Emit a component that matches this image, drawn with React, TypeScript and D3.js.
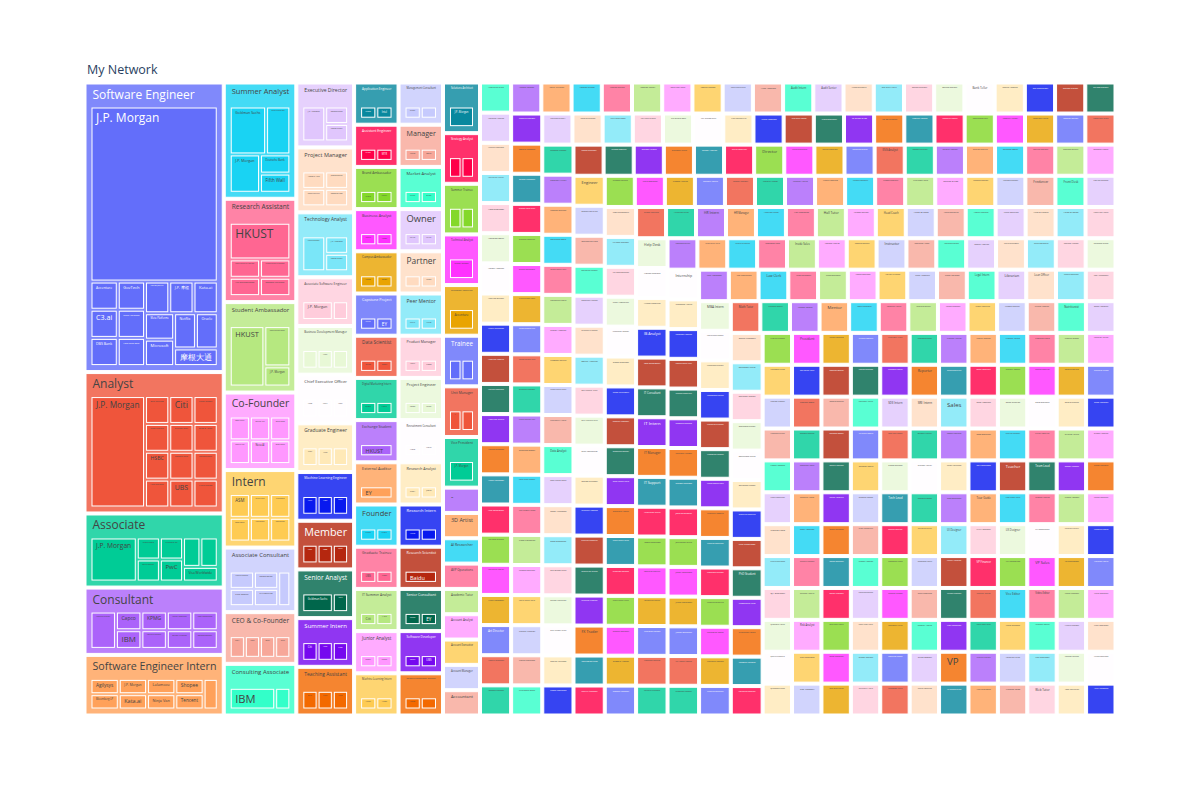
import { useMemo } from "react";
import * as d3 from "d3";

const W = 1200;
const H = 800;
const FONT = '"Open Sans", verdana, arial, sans-serif';

const chartTitle = "My Network";

// plotly colorway, extended by the treemap with lighter and darker variants
const colorway = ["#636efa", "#EF553B", "#00cc96", "#ab63fa", "#FFA15A", "#19d3f3", "#FF6692", "#B6E880", "#FF97FF", "#FECB52"];

// titles held by several people, split by company
const largeTitles: [string, [string, number][]][] = [
  ["Software Engineer", [["J.P. Morgan", 29], ["Accenture", 1], ["C3.ai", 1], ["DBS Bank", 1], ["GovTech", 1], ["Grab Holdings", 1], ["Hang Seng Bank", 1], ["Hong Kong Jockey Club", 1], ["J.P. 摩根", 1], ["Kata.ai", 1], ["Meta Platforms", 1], ["Microsoft", 1], ["Netflix", 1], ["Oracle", 1], ["摩根大通", 1]]],
  ["Analyst", [["J.P. Morgan", 9], ["BNP Paribas", 1], ["Citi", 1], ["Credit Suisse", 1], ["Deloitte Consulting", 1], ["Deutsche Bank", 1], ["Ernst & Young", 1], ["HSBC", 1], ["Hang Seng Bank", 1], ["Macquarie Group", 1], ["Morgan Stanley", 1], ["UBS", 1], ["Wells Fargo", 1]]],
  ["Associate", [["J.P. Morgan", 4], ["Apollo Global", 1], ["Bain & Company", 1], ["Citigroup Inc", 1], ["PwC", 1], ["Standard Chartered", 1], ["UBS Wealth Management", 1], ["Visa Worldwide", 1]]],
  ["Consultant", [["Accenture Strategy", 2], ["Capco", 1], ["IBM", 1], ["KPMG", 1], ["McKinsey & Company", 1], ["Mercer Consulting", 1], ["Oliver Wyman", 1], ["PwC Consulting", 1], ["Roland Berger", 1]]],
  ["Software Engineer Intern", [["Agilysys", 1], ["Bloomberg LP", 1], ["J.P. Morgan", 1], ["Kata.ai", 1], ["Lalamove", 1], ["Ninja Van", 1], ["Shopee", 1], ["Tencent", 1], ["Trip.com Group", 1]]],
  ["Summer Analyst", [["Goldman Sachs", 3], ["Barclays Investment Bank", 2], ["J.P. Morgan", 2], ["Deutsche Bank", 1], ["Fifth Wall", 1]]],
  ["Research Assistant", [["HKUST", 4], ["Chinese University of Hong Kong", 1], ["HKU Business School", 1], ["National University of Singapore", 1], ["Stanford University", 1]]],
  ["Student Ambassador", [["HKUST", 4], ["Google Developer Groups", 2], ["J.P. Morgan", 1]]],
  ["Co-Founder", [["Bloom Ventures", 1], ["CodeCraft Labs", 1], ["EduLink Asia", 1], ["Grid Labs", 1], ["Nova AI", 1], ["Stealth Startup", 1]]],
  ["Intern", [["ASM", 1], ["Bosch Group", 1], ["Cathay Pacific", 1], ["HKUST Robotics", 1], ["Huawei Technologies", 1], ["Samsung Electronics", 1]]],
  ["Associate Consultant", [["Accenture Technology", 1], ["Pure Search", 1], ["Roland Berger", 1], ["SAP Consulting", 1], ["ZS Associates", 1]]],
  ["CEO & Co-Founder", [["Brightly", 1], ["Lumen", 1], ["Orbit", 1], ["Tandem", 1]]],
  ["Consulting Associate", [["IBM", 3], ["Deloitte Consulting", 1]]],
  ["Executive Director", [["J.P. Morgan", 2], ["Goldman Sachs", 1], ["Morgan Stanley", 1]]],
  ["Project Manager", [["AECOM Asia", 1], ["Gammon Construction", 1], ["Jacobs Engineering", 1], ["Samsung C&T", 1]]],
  ["Technology Analyst", [["Citigroup Technology", 2], ["J.P. Morgan", 1], ["Morgan Stanley", 1]]],
  ["Associate Software Engineer", [["J.P. Morgan", 2], ["Accenture Technology", 1]]],
  ["Business Development Manager", [["Alibaba Cloud", 1], ["HKTDC", 1], ["Octopus Cards", 1]]],
  ["Chief Executive Officer", [["Atlas", 1], ["Kinetic", 1], ["Vertex", 1]]],
  ["Graduate Engineer", [["AECOM", 1], ["Arup", 1], ["MTR Corporation", 1]]],
  ["Machine Learning Engineer", [["Apple", 1], ["Huawei", 1], ["SenseTime", 1]]],
  ["Member", [["AIESEC", 1], ["IEEE", 1], ["Rotaract", 1]]],
  ["Senior Analyst", [["Goldman Sachs", 2], ["Accenture", 1]]],
  ["Summer Intern", [["Citi", 1], ["HSBC", 1], ["UBS", 1]]],
  ["Teaching Assistant", [["CUHK", 1], ["HKU", 1], ["HKUST", 1]]],
];

// titles held by two people
const pairTitles: [string, [string, number][]][] = [
  ["Application Engineer", [["Cisco", 1], ["Intel", 1]]],
  ["Assistant Engineer", [["CLP Power", 1], ["MTR", 1]]],
  ["Brand Ambassador", [["Nike", 1], ["Red Bull", 1]]],
  ["Business Analyst", [["Accenture", 1], ["HSBC", 1]]],
  ["Campus Ambassador", [["Microsoft", 1], ["Tencent", 1]]],
  ["Capstone Project", [["Cathay Pacific", 1], ["EY", 1]]],
  ["Data Scientist", [["Grab", 1], ["Shopee", 1]]],
  ["Digital Marketing Intern", [["Dyson", 1], ["L'Oréal", 1]]],
  ["Exchange Student", [["HKUST", 2]]],
  ["External Auditor", [["EY", 2]]],
  ["Founder", [["Launchpad", 1], ["Studio 9", 1]]],
  ["Graduate Trainee", [["UBS", 1], ["Vitasoy", 1]]],
  ["IT Summer Analyst", [["Citi", 1], ["J.P. Morgan", 1]]],
  ["Junior Analyst", [["Bloomberg", 1], ["Nomura", 1]]],
  ["Machine Learning Intern", [["Alibaba", 1], ["Huawei", 1]]],
  ["Management Consultant", [["Kearney", 1], ["McKinsey & Company", 1]]],
  ["Manager", [["Marriott", 1], ["Swire", 1]]],
  ["Market Analyst", [["Nielsen", 1], ["Zilliqa", 1]]],
  ["Owner", [["Café Luna", 1], ["Pixel Print", 1]]],
  ["Partner", [["Baker McKenzie", 1], ["Linklaters", 1]]],
  ["Peer Mentor", [["CUHK", 1], ["HKUST", 1]]],
  ["Product Manager", [["Airwallex", 1], ["Klook", 1]]],
  ["Project Engineer", [["Gammon", 1], ["Leighton", 1]]],
  ["Recruitment Consultant", [["Hays", 1], ["Michael Page", 1]]],
  ["Research Analyst", [["CLSA", 1], ["Jefferies", 1]]],
  ["Research Intern", [["HKUST", 1], ["Microsoft Research", 1]]],
  ["Research Scientist", [["Baidu", 2]]],
  ["Senior Consultant", [["Deloitte", 1], ["EY", 1]]],
  ["Software Developer", [["Bloomberg", 1], ["UBS", 1]]],
  ["Software Development Engineer", [["Amazon", 1], ["Amazon Web Services", 1]]],
  ["Solutions Architect", [["J.P. Morgan", 2]]],
  ["Strategy Analyst", [["Cathay Pacific", 1], ["Swire", 1]]],
  ["Summer Trainee", [["HSBC", 1], ["Standard Chartered", 1]]],
  ["Technical Analyst", [["Credit Suisse", 2]]],
  ["Technology Consultant", [["Accenture", 2]]],
  ["Trainee", [["CLP Power", 1], ["Jardine", 1]]],
  ["Unit Manager", [["AIA", 1], ["Prudential", 1]]],
  ["Vice President", [["J.P. Morgan", 2]]],
];

// titles held by one person each
const singleTitles: string[] = [
  "-", "3D Artist", "AI Researcher", "AVP Operations", "Academic Tutor", "Account Analyst", "Account Executive", "Account Manager", "Accountant", "Accounting Intern",
  "Actuarial Analyst", "Actuarial Consultant", "Administrative Assistant", "Administrator", "Admissions Officer", "Advisory Associate", "Algorithm Engineer", "Alumni Ambassador", "Analyst Intern", "Analytics Consultant",
  "Analytics Intern", "Android Developer", "Angel Investor", "App Developer", "Application Developer", "Architectural Assistant", "Area Manager", "Art Director", "Artist in Residence", "Assistant Manager",
  "Assistant Professor", "Assistant Vice President", "Associate Director", "Associate Engineer", "Associate Partner", "Associate Product Manager", "Associate Professor", "Associate Research Scientist", "Audit Associate", "Audit Intern",
  "Audit Senior", "Automation Engineer", "Back Office Analyst", "Backend Developer", "Backend Engineer", "Bank Teller", "Banking Associate", "Barista Trainer", "Bar Supervisor", "Big Data Engineer",
  "Blockchain Developer", "Board Member", "Brand Manager", "Business Analyst Intern", "Business Consultant", "Business Development", "Business Development Associate", "Business Development Intern", "Business Intelligence Analyst", "Business Manager",
  "Business Operations Analyst", "Business Owner", "Cabin Crew Member", "Call Centre Agent", "Camp Counsellor", "Campus Recruiter", "Capital Markets Analyst", "Career Mentor", "Cashier Supervisor", "Chairman's Office",
  "Chairperson of Society", "Chemical Engineer", "Chief Financial Officer", "Chief Marketing Officer", "Chief Operating Officer", "Chief Technology Officer", "Class Representative", "Client Associate", "Client Service Associate", "Cloud Engineer",
  "Co-founder & CEO", "Co-op Student", "Coaching Assistant", "Committee Member", "Communications Intern", "Community Manager", "Compliance Analyst", "Computer Engineer", "Consultant Intern", "Content Creator",
  "Content Writer", "Contract Engineer", "Coordination Officer", "Corporate Banking Analyst", "Counselling Intern", "Credit Analyst", "Customer Service", "Customer Success Manager", "Cybersecurity Analyst", "Data Analyst",
  "Data Analyst Intern", "Data Architect", "Data Engineer", "Data Science Intern", "Database Administrator", "Deal Advisory Intern", "Deputy Director", "Design Engineer", "Design Consultant", "DevOps Engineer",
  "Developer Intern", "Developer Advocate", "Digital Analyst", "Digital Consultant", "Director", "Director of Engineering", "Director of Operations", "Distinguished Engineer", "ESG Analyst", "Economic Researcher",
  "Editorial Assistant", "Education Consultant", "Education Officer", "Electrical Engineer", "Embedded Engineer", "Engagement Manager", "Engineer", "Engineering Intern", "Engineering Lead", "Engineering Manager",
  "Enterprise Architect", "Entrepreneur in Residence", "Equity Analyst", "Equity Research Analyst", "Equity Research Intern", "Event Coordinator", "Events Director", "Executive Assistant", "Executive Committee", "Executive Intern",
  "Executive Producer", "FX Trader", "Facilitation Lead", "Faculty Member", "Fellowship Recipient", "Field Engineer", "Finance Analyst", "Finance Intern", "Finance Manager", "Financial Advisor",
  "Financial Analyst", "Financial Consultant", "Financial Controller", "Firmware Engineer", "Fixed Income Analyst", "Founder & CEO", "Founding Engineer", "Freelance Designer", "Freelancer", "Front Desk",
  "Front End Developer", "Frontend Engineer", "Full Stack Developer", "Full Stack Engineer", "Fund Accountant", "Fundraising Manager", "Game Designer", "Game Developer", "General Manager", "Geotechnical Engineer",
  "Global Markets Analyst", "Graduate Analyst", "Graduate Research Assistant", "Graduate Student", "Graduate Teaching Assistant", "Graphic Designer", "Growth Hacker", "Growth Manager", "Guest Lecturer", "HR Business Partner",
  "HR Intern", "HR Manager", "Hackathon Mentor", "Hall Resident", "Hall Tutor", "Hardware Engineer", "Head Coach", "Head of Data", "Head of Engineering", "Head of Marketing",
  "Head of Operations", "Head of Product", "Head of Sales", "Hedge Fund Analyst", "Help Desk", "House Captain", "Human Resources", "IB Analyst", "IOS Developer", "IT Consultant",
  "IT Intern", "IT Manager", "IT Support", "Illustration Intern", "Image Consultant", "Immigration Consultant", "Implementation Consultant", "Incubation Manager", "Independent Consultant", "Industrial Placement",
  "Information Security", "Infrastructure Analyst", "Infrastructure Engineer", "Innovation Lead", "Inside Sales", "Insights Analyst", "Inspection Engineer", "Instructor", "Insurance Agent", "Interaction Designer",
  "Intern Analyst", "Intern Developer", "Intern Engineer", "Internal Auditor", "International Student", "Internship", "Investment Analyst", "Investment Associate", "Investment Banking Analyst", "Investment Banking Intern",
  "Investment Manager", "Investment Consultant", "Investor Relations", "Java Developer", "Journalism Intern", "Junior Consultant", "Junior Developer", "Junior Engineer", "Key Account Manager", "Knowledge Manager",
  "Lab Assistant", "Lab Technician", "Law Clerk", "Legal Associate", "Lead Developer", "Lead Engineer", "Leasing Consultant", "Lecturer in Finance", "Legal Counsel", "Legal Intern",
  "Librarian", "Loan Officer", "Logistics Coordinator", "MBA Candidate", "MBA Intern", "Machine Learning Researcher", "Maintenance Engineer", "Management Trainee", "Managing Director", "Managing Partner",
  "Market Research Intern", "Marketing Associate", "Marketing Coordinator", "Marketing Director", "Marketing Executive", "Marketing Intern", "Marketing Manager", "Marketing Specialist", "Math Tutor", "Mechanical Engineer",
  "Media Intern", "Mentor", "Mobile Developer", "Modelling Analyst", "Moderation Specialist", "Music Teacher", "Network Administrator", "Network Engineer", "Nursing Assistant", "Nutritionist",
  "Office Assistant", "Office Manager", "Operations Analyst", "Operations Associate", "Operations Director", "Operations Intern", "Operations Manager", "Organizing Committee", "PhD Candidate", "PhD Student",
  "Photography Lead", "Physiotherapist Assistant", "Portfolio Manager", "Postdoctoral Researcher", "Practice Manager", "President", "Principal Consultant", "Principal Engineer", "Private Equity Analyst", "Process Engineer",
  "Production Assistant", "Product Analyst", "Product Designer", "Product Intern", "Product Lead", "Product Owner", "Professorial Fellow", "Program Manager", "Programming Instructor", "Project Assistant",
  "Project Coordinator", "Project Lead", "Public Relations", "QA Engineer", "Quantitative Analyst", "Quantitative Researcher", "Quantitative Trader", "Real Estate Agent", "Receptionist", "Recruiting Coordinator",
  "Relationship Manager", "Reporter", "Representative", "Research Assistant Intern", "Research Associate", "Research Consultant", "Research Engineer", "Research Fellow", "Research Officer", "Research Student",
  "Researcher Intern", "Residential Advisor", "Retail Associate", "Revenue Manager", "Review Analyst", "Risk Analyst", "Risk Consultant", "Risk Manager", "Robotics Engineer", "Rotational Analyst",
  "SDE Intern", "SRE Intern", "Sales", "Sales Associate", "Sales Director", "Sales Engineer", "Sales Executive", "Sales Manager", "Scientific Officer", "Security Engineer",
  "Senior Associate", "Senior Developer", "Senior Engineer", "Senior Manager", "Senior Product Manager", "Senior Researcher", "Senior Software Engineer", "Site Reliability Engineer", "Social Media Manager", "Software Architect",
  "Software Consultant", "Staff Engineer", "Startup Founder", "Strategy Consultant", "Strategy Intern", "Student Intern", "Student Assistant", "Student Leader", "Student Representative", "Summer Associate",
  "Supervising Engineer", "Supply Chain Analyst", "Support Engineer", "Sustainability Analyst", "System Engineer", "Systems Analyst", "Talent Acquisition", "Tax Consultant", "Teacher", "Team Lead",
  "Team Leader", "Team Manager", "Tech Lead", "Technical Consultant", "Technical Lead", "Technical Support", "Technical Writer", "Technician Trainee", "Technology Intern", "Tennis Coach",
  "Test Engineer", "Tour Guide", "Trade Finance Analyst", "Trading Analyst", "Trading Assistant", "Training Coordinator", "Transformation Consultant", "Translation Intern", "Travel Consultant", "Treasury Analyst",
  "Trust Officer", "Tutoring Coordinator", "UI Designer", "UI/UX Designer", "UX Designer", "UX Researcher", "Undergraduate Researcher", "Underwriting Assistant", "University Ambassador", "Urban Planner",
  "User Researcher", "VP", "VP Engineering", "VP Finance", "VP Marketing", "VP Sales", "VR Developer", "Valuation Analyst", "Venture Analyst", "Venture Capital Analyst",
  "Venture Partner", "Vice Chairman", "Vice Editor", "Video Editor", "Video Producer", "Visiting Researcher", "Visual Designer", "Volunteer Tutor", "Waiting Staff", "Warehouse Associate",
  "Wealth Manager", "Web Designer", "Web Developer", "Web Tutor", "Workshop Facilitator", "Writing Consultant", "Yoga Instructor", "Youth Ambassador",
];

const margin = { top: 84, left: 86 };
const mapW = 1028;
const mapH = 630;

type Datum = { name: string; value?: number; children?: Datum[] };

const byName = (a: string, b: string) => (a < b ? -1 : a > b ? 1 : 0);

function shade(c: string, amount: number) {
  const h = d3.hsl(c);
  h.l = Math.max(0, Math.min(1, h.l + amount));
  return h.formatHex();
}

function isDark(c: string) {
  const { r, g, b } = d3.rgb(c);
  return (r * 299 + g * 587 + b * 114) / 1000 < 128;
}

export default function App() {
  const layout = useMemo(() => {
    const colors = [
      ...colorway,
      ...colorway.map((c) => shade(c, 0.2)),
      ...colorway.map((c) => shade(c, -0.2)),
    ];

    const toNode = ([title, companies]: [string, [string, number][]]): Datum => ({
      name: title,
      children: companies.map(([name, value]) => ({ name, value })),
    });

    const data: Datum = {
      name: "root",
      children: [
        ...largeTitles.map(toNode),
        ...pairTitles.map(toNode),
        ...singleTitles.map((name) => ({ name, value: 1 })),
      ],
    };

    const root = d3
      .hierarchy<Datum>(data)
      .sum((d) => d.value || 0)
      .sort((a, b) => (b.value || 0) - (a.value || 0) || byName(a.data.name, b.data.name));

    d3.treemap<Datum>()
      .tile(d3.treemapSquarify.ratio(1))
      .size([mapW, mapH])
      .paddingInner(3)
      .paddingTop((d) => (d.depth === 1 ? 24 : 0))
      .paddingLeft((d) => (d.depth === 1 ? 6 : 0))
      .paddingRight((d) => (d.depth === 1 ? 6 : 0))
      .paddingBottom((d) => (d.depth === 1 ? 6 : 0))(root);

    const ctx = document.createElement("canvas").getContext("2d")!;
    ctx.font = `12px ${FONT}`;
    const textW = (s: string) => ctx.measureText(s).width || s.length * 6.5;

    return (root.children || []).map((n: any, i) => {
      const base = colors[i % colors.length];
      const w = n.x1 - n.x0;
      const h = n.y1 - n.y0;
      const fs = Math.min(12, (12 * (w - 12)) / textW(n.data.name), h / 3);
      const leaves = (n.children || [])
        .filter((c: any) => c.x1 - c.x0 > 1 && c.y1 - c.y0 > 1)
        .map((c: any) => {
          const cw = c.x1 - c.x0;
          const ch = c.y1 - c.y0;
          const cfs = Math.min(12, (12 * (cw - 8)) / textW(c.data.name), ch * 0.6);
          return { x0: c.x0, y0: c.y0, w: cw, h: ch, name: c.data.name, fs: cfs };
        });
      return {
        name: n.data.name,
        x0: n.x0,
        y0: n.y0,
        w,
        h,
        fs,
        fill: d3.interpolateRgb(base, "#ffffff")(0.1875),
        leafFill: base,
        textFill: isDark(base) ? "#ffffff" : "#444444",
        leaves,
      };
    });
  }, []);

  return (
    <svg
      width={W}
      height={H}
      style={{ position: "absolute", left: 0, top: 0, background: "#fff" }}
      fontFamily={FONT}
    >
      <text x={87} y={74} fontSize={12.5} fill="#2a3f5f">
        {chartTitle}
      </text>
      <g transform={`translate(${margin.left},${margin.top})`}>
        {layout.map((t) => (
          <g key={t.name}>
            <rect x={t.x0} y={t.y0} width={t.w} height={t.h} fill={t.fill} stroke="#fff" strokeWidth={1} />
            {t.fs > 0.8 && (
              <text x={t.x0 + 6.5} y={t.y0 + 2.5 + t.fs} fontSize={t.fs} fill={t.textFill}>
                {t.name}
              </text>
            )}
            {t.leaves.map((c, j) => (
              <g key={j}>
                <rect x={c.x0} y={c.y0} width={c.w} height={c.h} fill={t.leafFill} stroke="#fff" strokeWidth={1} />
                {c.fs > 0.8 && (
                  <text x={c.x0 + 4} y={c.y0 + 2 + c.fs} fontSize={c.fs} fill={t.textFill}>
                    {c.name}
                  </text>
                )}
              </g>
            ))}
          </g>
        ))}
      </g>
    </svg>
  );
}
